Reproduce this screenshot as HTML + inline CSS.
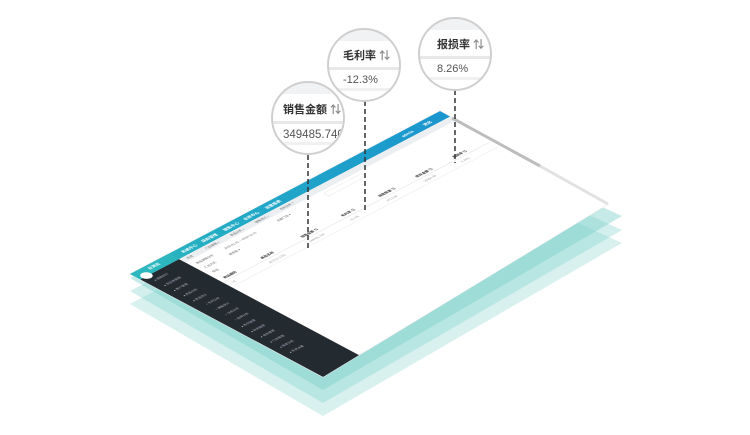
<!DOCTYPE html>
<html><head><meta charset="utf-8"><style>
html,body{margin:0;padding:0;background:#fff;width:750px;height:435px;overflow:hidden}
svg{display:block}
.t{font-family:"Liberation Sans","Noto Sans CJK SC",sans-serif}
</style></head><body>
<svg width="750" height="435" viewBox="0 0 750 435" xmlns="http://www.w3.org/2000/svg">
<defs>
<clipPath id="scr"><polygon points="130,274 440,111 608,204 323,377"/></clipPath>
<linearGradient id="hg" x1="0" y1="0" x2="1" y2="0">
<stop offset="0" stop-color="#2bb7bd"/><stop offset="0.35" stop-color="#22a9c6"/><stop offset="1" stop-color="#1a95cf"/></linearGradient>
<clipPath id="c1"><circle cx="308" cy="118" r="36"/></clipPath>
<clipPath id="c2"><circle cx="364" cy="65" r="36"/></clipPath>
<clipPath id="c3"><circle cx="455" cy="54" r="36"/></clipPath>
</defs>
<!-- teal layers -->
<polygon points="130,304 420,151 622,243 323,416" fill="#7fd0cb" opacity="0.3"/>
<polygon points="130,291 420,138 622,230 323,403" fill="#7fd0cb" opacity="0.35"/>
<polygon points="130,278 420,125 622,216 323,390" fill="#7fd0cb" opacity="0.45"/>
<!-- screen -->
<polygon points="130,274 440,111 608,204 323,377" fill="#fff" stroke="#e4e8ea" stroke-width="1"/>
<g clip-path="url(#scr)">
<g transform="matrix(0.31,-0.163,0.3217,0.1717,130,274)">
<rect x="0" y="0" width="1000" height="600" fill="#fff"/>
<rect x="0" y="0" width="1000" height="32" fill="url(#hg)"/>
<rect x="0" y="32" width="125" height="568" fill="#232a30"/>
<rect x="0" y="0" width="125" height="32" fill="#2bb7bd"/>
<circle cx="22" cy="30" r="14" fill="#fff"/>
<rect x="125" y="32" width="875" height="20" fill="#eceff2"/>
<g class="t" font-size="12" fill="#fff" font-weight="bold">
<text x="45" y="18">云测云</text><text x="150" y="21">系统中心</text><text x="215" y="21">采购管理</text><text x="285" y="21">销售中心</text><text x="350" y="21">仓库中心</text><text x="420" y="21">运营报表</text>
<text x="860" y="21">admin</text><text x="930" y="21">退出</text></g>
<g class="t" font-size="9" fill="#aab">
<text x="20" y="60">● 销售统计</text><text x="20" y="90">● 供应商管理</text><text x="20" y="120">● 客户管理</text><text x="20" y="150">● 商品分析</text><text x="20" y="180">● 商品统计</text>
<text x="30" y="210">○ 毛利分析</text><text x="30" y="240">○ 销售统计</text><text x="30" y="270">○ 分类分析</text><text x="30" y="300">○ 品牌分析</text>
<text x="20" y="330">● 库存管理</text><text x="20" y="360">● 财务管理</text><text x="20" y="390">● 会员管理</text><text x="20" y="420">● 门店管理</text><text x="20" y="450">● 报表分析</text><text x="20" y="480">● 系统设置</text></g>
<g class="t" font-size="9" fill="#666">
<text x="140" y="46">首页</text><text x="200" y="46">门店销售 ×</text><text x="280" y="46">商品分析 ×</text><text x="360" y="46">销售统计 ×</text><text x="440" y="46">毛利分析 ×</text>
<text x="140" y="75">商品销售分析</text><text x="230" y="75">2019-01-01 ~ 2019-12-31</text><text x="400" y="75">全部门店 ▾</text>
<text x="140" y="100">汇总方式</text><text x="220" y="100">按商品 ▾</text>
<text x="140" y="125">导出</text>
</g>
<rect x="560" y="62" width="120" height="16" fill="#fff" stroke="#ddd"/>
<g class="t" font-size="10" fill="#333" font-weight="bold">
<text x="140" y="160">商品编码</text><text x="260" y="160">商品名称</text><text x="390" y="160">销售金额 ⇅</text><text x="520" y="160">毛利率 ⇅</text><text x="640" y="160">销售数量 ⇅</text><text x="760" y="160">库存金额 ⇅</text><text x="880" y="160">报损率 ⇅</text></g>
<line x1="130" y1="168" x2="985" y2="168" stroke="#e5e5e5" stroke-width="2"/>
<g class="t" font-size="9" fill="#999">
<text x="140" y="185">10</text><text x="260" y="185">合计(13,128)</text><text x="390" y="185">349485.740</text><text x="520" y="185">-12.3%</text><text x="640" y="185">6713.00</text><text x="760" y="185">20964.00</text><text x="880" y="185">8.26%</text></g>
<line x1="130" y1="195" x2="985" y2="195" stroke="#eee" stroke-width="2"/>
<text class="t" x="560" y="580" font-size="10" fill="#777">©Copyright 云测云科技有限公司 www.yunceyun.com 版权所有</text>
<line x1="125" y1="590" x2="1000" y2="590" stroke="#e4e4e4" stroke-width="2"/>
</g></g>
<!-- right gray border of screen -->
<line x1="452" y1="118" x2="540" y2="166" stroke="#bdbdbd" stroke-width="3"/>
<line x1="540" y1="166" x2="608" y2="204" stroke="#e2e2e2" stroke-width="3"/>
<!-- dashed lines -->
<g stroke="#333" stroke-width="1.5" stroke-dasharray="5,3">
<line x1="308" y1="155" x2="308" y2="248"/>
<line x1="365" y1="101" x2="365" y2="213"/>
<line x1="455" y1="90" x2="455" y2="163"/>
</g>
<!-- magnifier circles -->
<g class="t">
<g clip-path="url(#c1)">
<rect x="270" y="80" width="80" height="80" fill="#fff"/>
<rect x="270" y="80" width="80" height="14" fill="#f1f2f4"/>
<rect x="270" y="121" width="80" height="3" fill="#e6e8ea"/>
<rect x="270" y="142" width="80" height="3" fill="#eef0f2"/>
<text x="283" y="113" font-size="11" font-weight="bold" fill="#333">销售金额 <tspan fill="#888">⇅</tspan></text>
<text x="283" y="138" font-size="11.5" fill="#555">349485.740</text>
</g>
<circle cx="308" cy="118" r="36" fill="none" stroke="#cfcfcf" stroke-width="2"/>
<g clip-path="url(#c2)">
<rect x="326" y="27" width="80" height="80" fill="#fff"/>
<rect x="326" y="27" width="80" height="14" fill="#f1f2f4"/>
<rect x="326" y="67" width="80" height="3" fill="#e6e8ea"/>
<rect x="326" y="88" width="80" height="3" fill="#eef0f2"/>
<text x="343" y="59" font-size="11" font-weight="bold" fill="#333">毛利率 <tspan fill="#888">⇅</tspan></text>
<text x="343" y="83" font-size="11" fill="#555">-12.3%</text>
</g>
<circle cx="364" cy="65" r="36" fill="none" stroke="#cfcfcf" stroke-width="2"/>
<g clip-path="url(#c3)">
<rect x="417" y="16" width="80" height="80" fill="#fff"/>
<rect x="417" y="16" width="80" height="14" fill="#f1f2f4"/>
<rect x="417" y="56" width="80" height="3" fill="#e6e8ea"/>
<rect x="417" y="77" width="80" height="3" fill="#eef0f2"/>
<text x="437" y="48" font-size="11" font-weight="bold" fill="#333">报损率 <tspan fill="#888">⇅</tspan></text>
<text x="437" y="72" font-size="11" fill="#555">8.26%</text>
</g>
<circle cx="455" cy="54" r="36" fill="none" stroke="#cfcfcf" stroke-width="2"/>
</g>
</svg>
</body></html>
